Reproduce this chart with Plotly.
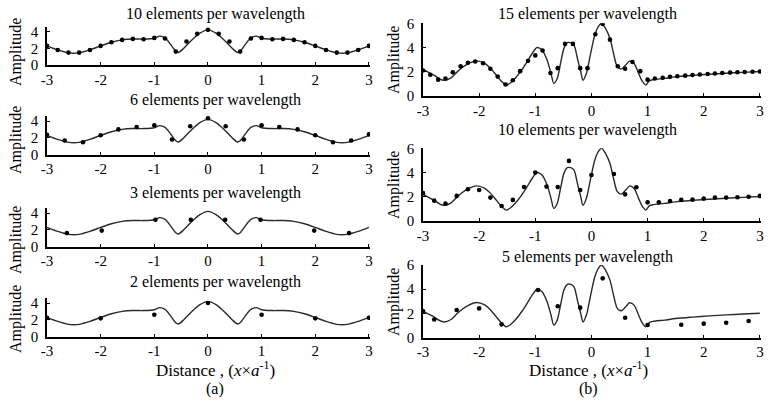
import plotly.graph_objects as go

# ---- (a) panels: exact solution (same curve in all four) ----
left_x = [-3.0, -2.8, -2.6, -2.5, -2.4, -2.2, -2.0, -1.8, -1.6, -1.4, -1.2, -1.0, -0.9, -0.8, -0.7,
          -0.6, -0.55, -0.45, -0.3, -0.15, 0.0, 0.15, 0.3, 0.45, 0.55, 0.6, 0.7, 0.8, 0.9, 1.0,
          1.2, 1.4, 1.6, 1.8, 2.0, 2.2, 2.4, 2.5, 2.6, 2.8, 3.0]
left_y = [2.28, 1.8, 1.45, 1.4, 1.45, 1.8, 2.28, 2.72, 3.0, 3.1, 3.1, 3.2, 3.45, 3.25, 2.5,
          1.65, 1.5, 2.0, 3.0, 3.8, 4.2, 3.8, 3.0, 2.0, 1.5, 1.65, 2.5, 3.25, 3.45, 3.2,
          3.1, 3.1, 3.0, 2.72, 2.28, 1.8, 1.45, 1.4, 1.45, 1.8, 2.28]

# discrete solutions
a10_x = [-3.0, -2.8, -2.6, -2.4, -2.2, -2.0, -1.8, -1.6, -1.4, -1.2, -1.0, -0.8, -0.6, -0.4, -0.2, 0.0,
         0.2, 0.4, 0.6, 0.8, 1.0, 1.2, 1.4, 1.6, 1.8, 2.0, 2.2, 2.4, 2.6, 2.8, 3.0]
a10_y = [2.28, 1.8, 1.48, 1.48, 1.8, 2.28, 2.72, 3.0, 3.12, 3.08, 3.24, 3.16, 1.6, 2.8, 3.72, 4.2,
         3.72, 2.8, 1.6, 3.16, 3.24, 3.08, 3.12, 3.0, 2.72, 2.28, 1.8, 1.48, 1.48, 1.8, 2.28]

a6_x = [-3.0, -2.67, -2.33, -2.0, -1.67, -1.33, -1.0, -0.67, -0.33, 0.0,
        0.33, 0.67, 1.0, 1.33, 1.67, 2.0, 2.33, 2.67, 3.0]
a6_y = [2.36, 1.68, 1.47, 2.3, 3.0, 3.28, 3.5, 1.8, 3.37, 4.33,
        3.37, 1.8, 3.5, 3.28, 3.0, 2.3, 1.47, 1.68, 2.4]

a3_x = [-2.63, -1.98, -0.98, -0.32, 0.32, 0.98, 1.98, 2.63]
a3_y = [1.6, 1.9, 3.2, 3.2, 3.2, 3.2, 1.9, 1.6]

a2_x = [-3.0, -2.0, -1.0, 0.0, 1.0, 2.0, 3.0]
a2_y = [2.24, 2.17, 2.6, 4.0, 2.6, 2.17, 2.24]

# ---- (b) panels: exact solution ----
right_x = [-3.0, -2.9, -2.8, -2.7, -2.63, -2.5, -2.4, -2.3, -2.2, -2.05, -1.9, -1.8, -1.7, -1.6,
           -1.52, -1.45, -1.35, -1.25, -1.15, -1.05, -0.97, -0.88, -0.79, -0.72, -0.67, -0.61,
           -0.55, -0.49, -0.43, -0.37, -0.31, -0.25, -0.19, -0.15, -0.09, -0.02, 0.06, 0.12,
           0.18, 0.25, 0.33, 0.40, 0.46, 0.53, 0.61, 0.68, 0.76, 0.84, 0.91, 0.97, 1.03, 1.1,
           1.3, 1.5, 1.8, 2.1, 2.4, 2.7, 3.0]
right_y = [2.2, 1.95, 1.7, 1.4, 1.3, 1.5, 1.95, 2.35, 2.65, 2.9, 2.7, 2.3, 1.75, 1.2,
           0.9, 1.05, 1.5, 2.1, 2.8, 3.55, 4.0, 3.8, 2.97, 1.87, 1.04, 1.45,
           2.7, 3.93, 4.4, 4.4, 4.2, 3.1, 2.0, 1.3, 1.87, 3.38, 5.03, 5.71,
           6.0, 5.58, 4.75, 3.38, 2.42, 2.22, 2.55, 2.88, 2.69, 1.87, 1.18, 0.9, 1.25, 1.35,
           1.45, 1.58, 1.7, 1.8, 1.88, 1.95, 2.02]

b15_x = [-3.0, -2.87, -2.73, -2.6, -2.47, -2.33, -2.2, -2.07, -1.93, -1.8, -1.67, -1.53, -1.4,
         -1.27, -1.13, -1.0, -0.87, -0.73, -0.6, -0.47, -0.33, -0.2, -0.07, 0.07, 0.2, 0.33,
         0.47, 0.6, 0.73, 0.87, 1.0, 1.13, 1.27, 1.4, 1.53, 1.67, 1.8, 1.93, 2.07, 2.2, 2.33,
         2.47, 2.6, 2.73, 2.87, 3.0]
b15_y = [2.1, 1.75, 1.35, 1.45, 1.95, 2.45, 2.75, 2.85, 2.7, 2.25, 1.6, 0.95, 1.3,
         2.05, 2.9, 3.35, 3.75, 1.9, 2.3, 4.3, 4.3, 2.3, 2.3, 5.1, 5.95, 4.65,
         2.45, 2.25, 2.8, 2.05, 1.35, 1.45, 1.5, 1.58, 1.63, 1.68, 1.73, 1.78, 1.82, 1.86, 1.9,
         1.93, 1.96, 1.98, 2.0, 2.02]

b10_x = [-3.0, -2.8, -2.6, -2.4, -2.2, -2.0, -1.8, -1.6, -1.4, -1.2, -1.0, -0.8, -0.6, -0.4, -0.2, 0.0,
         0.2, 0.4, 0.6, 0.8, 1.0, 1.2, 1.4, 1.6, 1.8, 2.0, 2.2, 2.4, 2.6, 2.8, 3.0]
b10_y = [2.3, 1.68, 1.43, 2.07, 2.62, 2.56, 1.93, 1.24, 1.74, 2.8, 4.0, 2.84, 2.8, 4.96, 2.56, 3.8,
         6.2, 3.88, 2.2, 2.78, 1.54, 1.54, 1.65, 1.74, 1.76, 1.85, 1.93, 1.93, 1.96, 2.0, 2.07]

b5_x = [-3.0, -2.8, -2.4, -2.0, -1.6, -0.95, -0.6, -0.2, 0.2, 0.6, 1.0, 1.6, 2.0, 2.4, 2.8]
b5_y = [2.2, 1.5, 2.29, 2.42, 1.1, 3.94, 2.6, 2.48, 4.9, 1.65, 1.05, 1.07, 1.16, 1.24, 1.38]

x_ticks = [-3, -2, -1, 0, 1, 2, 3]
x_ticktext = ["-3", "-2", "-1", "0", "1", "2", "3"]

left_titles = ["10 elements per wavelength", "6 elements per wavelength",
               "3 elements per wavelength", "2 elements per wavelength"]
right_titles = ["15 elements per wavelength", "10 elements per wavelength",
                "5 elements per wavelength"]

W, H = 768, 401
FONT = "Liberation Serif"
LINE = "#2a2a2a"


def px(x):
    return x / W


def py(y):
    return 1 - y / H


fig = go.Figure()
layout = dict(width=W, height=H, margin=dict(l=0, r=0, t=0, b=0, autoexpand=False),
              paper_bgcolor="white", plot_bgcolor="white", showlegend=False,
              font=dict(family=FONT, size=15, color="black"))
annotations = []

# panel geometry in pixels: (x0, x1, bottom, top)
left_panels = [(47, 370, 65, 26.5), (47, 370, 154.5, 116), (47, 370, 246.5, 208), (47, 370, 336.5, 298)]
right_panels = [(423, 761, 96, 23.3), (423, 761, 221, 148.3), (423, 761, 337.7, 265)]

left_dots = [(a10_x, a10_y), (a6_x, a6_y), (a3_x, a3_y), (a2_x, a2_y)]
right_dots = [(b15_x, b15_y), (b10_x, b10_y), (b5_x, b5_y)]

panels = []
for i in range(4):
    panels.append((left_panels[i], left_x, left_y, left_dots[i], left_titles[i], 4.6, [0, 2, 4], True))
for i in range(3):
    panels.append((right_panels[i], right_x, right_y, right_dots[i], right_titles[i], 6.0, [0, 2, 4, 6], False))

title_y = {True: [14, 100, 193, 282], False: [14, 130, 257]}
amp_y = {True: [52, 140, 240, 319], False: [60, 185, 302]}

li = 0
ri = 0
for k, (geo, cx, cy, dots, title, ytop, yt, is_left) in enumerate(panels):
    n = k + 1
    xa = "x" if n == 1 else "x%d" % n
    ya = "y" if n == 1 else "y%d" % n
    x0, x1, bot, top = geo
    fig.add_trace(go.Scatter(x=cx, y=cy, mode="lines", line=dict(color=LINE, width=1.4, shape="spline", smoothing=0.8),
                             xaxis=xa, yaxis=ya, hoverinfo="skip"))
    fig.add_trace(go.Scatter(x=dots[0], y=dots[1], mode="markers",
                             marker=dict(color="black", size=4.6),
                             xaxis=xa, yaxis=ya))
    axis_common = dict(showline=True, linecolor="black", linewidth=1.5, showgrid=False, zeroline=False,
                       ticks="inside", ticklen=3, tickcolor="black", tickwidth=1.2,
                       automargin=False, ticklabeloverflow="allow",
                       tickfont=dict(family=FONT, size=15, color="black"))
    layout["xaxis" if n == 1 else "xaxis%d" % n] = dict(
        domain=[px(x0), px(x1)], range=[-3, 3.02], tickvals=x_ticks, ticktext=x_ticktext,
        anchor=ya, **axis_common)
    layout["yaxis" if n == 1 else "yaxis%d" % n] = dict(
        domain=[py(bot), py(top)], range=[0, ytop], tickvals=yt, anchor=xa,
        ticklabelstandoff=4, **axis_common)
    idx = li if is_left else ri
    cxm = 215 if is_left else 587
    annotations.append(dict(text=title, x=px(cxm), y=py(title_y[is_left][idx]), xref="paper", yref="paper",
                            showarrow=False, xanchor="center", yanchor="middle",
                            font=dict(family=FONT, size=16, color="black")))
    annotations.append(dict(text="Amplitude", x=px(16 if is_left else 394), y=py(amp_y[is_left][idx]),
                            xref="paper", yref="paper", showarrow=False, textangle=-90,
                            xanchor="center", yanchor="middle",
                            font=dict(family=FONT, size=16, color="black")))
    if is_left:
        li += 1
    else:
        ri += 1

for cxm, lab in [(215, "(a)"), (588, "(b)")]:
    annotations.append(dict(text="Distance , (<i>x</i>×<i>a</i><sup>-1</sup>)", x=px(cxm), y=py(369),
                            xref="paper", yref="paper", showarrow=False, xanchor="center", yanchor="middle",
                            font=dict(family=FONT, size=17, color="black")))
    annotations.append(dict(text=lab, x=px(cxm), y=py(389), xref="paper", yref="paper",
                            showarrow=False, xanchor="center", yanchor="middle",
                            font=dict(family=FONT, size=16, color="black")))

layout["annotations"] = annotations
fig.update_layout(**layout)
# drop the browser's default 8px page margin so the figure sits at the window origin
fig.write_html("out.html", config={"displayModeBar": False},
               post_script="document.body.style.margin='0';")
